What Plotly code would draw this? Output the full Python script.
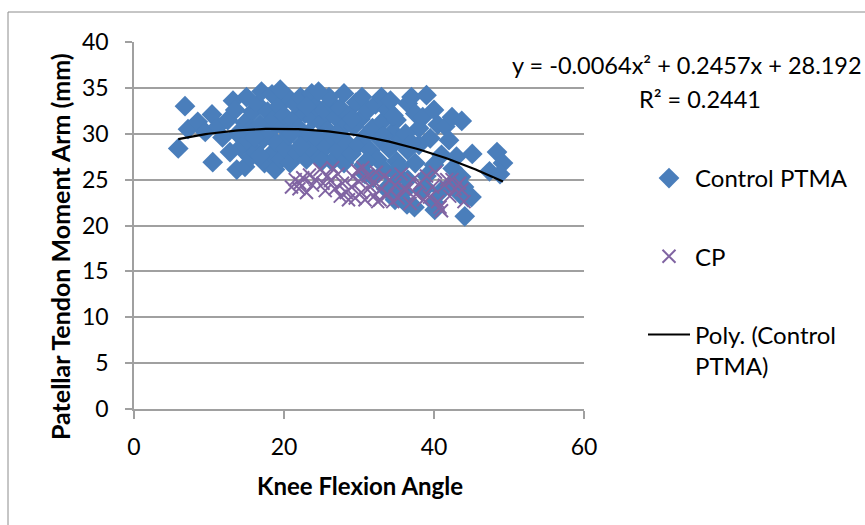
import plotly.graph_objects as go

# ---------------- data ----------------
control_x = [5.9, 6.8, 7.2, 8.5, 9.5, 10.4, 10.5, 11.2, 11.8,
             12.5, 13.2, 13.5, 13.7, 13.8, 14.2, 14.8, 14.8, 15.2, 15.5, 15.8, 15.6,
             16.2, 16.5, 16.8, 17.0, 17.2, 17.4, 17.8, 18.0, 18.3, 18.4, 18.6, 18.8, 19.0, 19.3, 19.6, 19.8, 20.0, 20.2,
             20.5, 20.6, 20.8, 21.2, 21.5, 21.8, 22.0, 22.2, 22.5, 22.8, 23.0, 23.2, 23.7, 23.6, 23.9,
             24.2, 24.5, 24.8, 25.0, 25.3, 25.6, 25.8, 26.2, 26.4, 26.6, 26.9, 27.2, 27.5, 27.8, 28.0, 28.0,
             28.4, 28.7, 29.0, 29.3, 29.6, 29.9, 30.2, 30.4, 30.6, 30.9, 31.2, 31.5, 31.8, 31.9,
             32.2, 32.5, 32.8, 33.0, 33.2, 33.5, 33.8, 34.0, 34.3, 34.5, 34.8, 35.0, 35.3, 35.6, 35.9,
             36.5, 37.0, 37.5, 39.0, 38.0, 38.5, 39.5, 40.0, 40.5, 41.5, 42.4, 43.7, 42.0, 41.0, 40.0,
             43.0, 42.5, 36.4, 37.4, 38.5, 40.0, 41.0, 42.5, 43.5, 44.1, 45.0, 39.0, 37.5, 36.5, 38.0,
             43.6, 44.0, 36.5, 38.8, 40.1, 44.5, 45.1, 47.4, 48.4, 49.2, 48.8,
             21.0, 23.0, 25.0, 27.0, 29.1, 31.0, 33.2, 35.0, 36.2, 37.0, 34.2, 26.0, 22.2, 16.1, 19.5,
             24.6, 30.8, 33.6, 35.4, 34.6, 16.8, 12.8, 15.0]
control_y = [28.4, 33.0, 30.5, 31.3, 30.2, 32.1, 26.9, 30.8, 29.6,
             31.5, 33.6, 32.6, 26.1, 30.0, 28.5, 26.4, 31.2, 29.2, 27.4, 32.4, 30.5,
             28.0, 33.2, 31.0, 34.6, 29.4, 26.8, 32.4, 30.2, 27.8, 34.3, 31.6, 26.1, 29.0, 33.0, 27.2, 30.8, 32.0, 28.4,
             34.0, 29.8, 26.8, 31.5, 33.2, 27.9, 30.6, 34.0, 29.0, 32.2, 27.2, 30.0, 34.4, 28.4, 31.6,
             33.0, 29.4, 27.4, 31.2, 32.6, 28.6, 30.4, 33.4, 27.0, 29.6, 31.8, 28.2, 32.8, 30.6, 34.4, 26.8,
             29.0, 32.0, 27.8, 30.8, 33.4, 28.8, 31.6, 34.0, 26.6, 29.8, 32.6, 28.2, 30.6, 25.2,
             33.2, 27.2, 29.4, 34.0, 31.4, 26.0, 32.6, 28.4, 24.2, 30.2, 22.8, 27.0, 25.4, 29.2, 23.6,
             33.3, 34.0, 32.2, 34.2, 30.6, 31.8, 29.5, 32.6, 31.0, 30.8, 31.8, 31.4, 29.3, 27.7, 26.6,
             27.5, 26.2, 22.3, 22.0, 23.8, 22.5, 23.8, 24.7, 23.4, 21.0, 23.1, 25.4, 26.8, 28.2, 28.8,
             25.3, 24.2, 25.0, 24.2, 21.7, 23.1, 27.8, 25.9, 28.0, 26.8, 25.6,
             30.0, 33.0, 27.0, 30.0, 31.6, 27.0, 29.8, 31.5, 30.0, 29.0, 33.6, 34.0, 28.6, 29.6, 34.8,
             34.6, 25.6, 24.0, 26.4, 32.0, 27.6, 28.0, 34.0]

cp_x = [21.0, 21.5, 22.0, 22.1, 22.5, 23.0, 23.4, 23.8, 24.2, 24.8, 25.2, 25.5, 25.8, 26.2, 26.5,
        26.8, 27.2, 27.5, 27.8, 28.3, 28.6, 29.0, 29.2, 29.5, 29.8, 30.0, 30.3,
        30.5, 30.8, 31.2, 31.5, 31.8, 32.0, 32.3, 32.5, 32.8, 33.0, 33.4, 33.8, 34.1,
        34.5, 34.8, 35.2, 35.6, 36.0, 36.3, 36.8, 37.2, 37.6, 38.1,
        38.6, 39.0, 39.4, 39.8, 40.2, 40.5, 40.8, 41.0, 41.4, 41.7, 42.1, 42.4, 42.8, 43.4, 43.7, 44.0]
cp_y = [24.2, 25.0, 24.0, 24.6, 25.2, 23.6, 25.5, 24.4, 25.0, 26.1, 24.6, 23.8, 25.4, 24.9, 26.3,
        24.0, 25.6, 23.2, 24.6, 23.6, 22.8, 24.2, 25.3, 23.0, 26.0, 24.8, 23.6,
        26.3, 22.8, 25.4, 24.2, 24.6, 23.2, 25.8, 22.6, 22.8, 24.0, 25.4, 23.4, 25.0,
        22.6, 24.4, 23.0, 25.6, 24.0, 23.9, 22.4, 25.0, 23.4, 24.6,
        22.8, 25.4, 23.1, 24.2, 25.8, 22.6, 22.0, 21.6, 24.4, 25.0, 23.2, 25.0, 24.0, 24.6, 23.9, 22.6]

# polynomial trendline coefficients as displayed on the chart
trend_a, trend_b, trend_c = -0.0064, 0.2457, 28.192
equation_text = "y = -0.0064x² + 0.2457x + 28.192"
r2_text = "R² = 0.2441"

x_tickvals = [0, 20, 40, 60]
y_tickvals = [0, 5, 10, 15, 20, 25, 30, 35, 40]

x_title = "Knee Flexion Angle"
y_title = "Patellar Tendon Moment Arm (mm)"
names = ["Control PTMA", "CP", "Poly. (Control<br>PTMA)"]

# ---------------- figure ----------------
FONT = "Lato"
BLUE = "#4A7EBB"
PURPLE = "#8064A2"
GRID = "#A0A0A0"

n_tr = 120
x0, x1 = min(control_x), max(control_x)
trend_x = [x0 + (x1 - x0) * i / (n_tr - 1) for i in range(n_tr)]
trend_y = [trend_a * v * v + trend_b * v + trend_c for v in trend_x]

fig = go.Figure()
fig.add_trace(go.Scatter(
    x=control_x, y=control_y, mode="markers", name=names[0], legendgroup="g1",
    marker=dict(symbol="diamond", size=16, color=BLUE, line=dict(width=0)),
))
fig.add_trace(go.Scatter(
    x=cp_x, y=cp_y, mode="markers", name=names[1], legendgroup="g2",
    marker=dict(symbol="x-thin", size=13, color=PURPLE, line=dict(width=2, color=PURPLE)),
))
fig.add_trace(go.Scatter(
    x=trend_x, y=trend_y, mode="lines", name=names[2], legendgroup="g3",
    line=dict(color="black", width=2.2),
))

L, R, T, B = 134, 281, 42, 116
W, H = 865, 525
pw, ph = W - L - R, H - T - B

def px(xp):
    return (xp - L) / pw

def py(yp):
    return (H - B - yp) / ph

fig.update_layout(
    width=W, height=H,
    margin=dict(l=L, r=R, t=T, b=B, pad=0),
    paper_bgcolor="white", plot_bgcolor="white",
    font=dict(family=FONT, size=24, color="black"),
    showlegend=True,
    legend=dict(
        x=px(643), y=py(156), xanchor="left", yanchor="top",
        font=dict(family=FONT, size=24, color="black"),
        tracegroupgap=44, valign="top", bgcolor="rgba(0,0,0,0)",
        itemwidth=42,
    ),
    xaxis=dict(
        range=[0, 60], tickvals=x_tickvals, showgrid=False, zeroline=False,
        showline=True, linecolor=GRID, linewidth=1.5,
        ticks="outside", ticklen=8, tickwidth=1.5, tickcolor=GRID,
        tickfont=dict(family=FONT, size=23, color="black"),
        ticklabelstandoff=9,
    ),
    yaxis=dict(
        range=[0, 40], tickvals=y_tickvals, showgrid=True, gridcolor=GRID, gridwidth=1.5,
        zeroline=False, showline=True, linecolor=GRID, linewidth=1.5,
        ticks="outside", ticklen=7, tickwidth=1.5, tickcolor=GRID,
        tickfont=dict(family=FONT, size=23, color="black"),
        ticklabelstandoff=12,
    ),
    annotations=[
        dict(text="<b>" + x_title + "</b>", xref="paper", yref="paper",
             x=px(359.5), y=py(485), xanchor="center", yanchor="middle",
             showarrow=False, font=dict(family=FONT, size=24, color="black")),
        dict(text="<b>" + y_title + "</b>", xref="paper", yref="paper",
             x=px(60), y=py(247), xanchor="center", yanchor="middle", textangle=-90,
             showarrow=False, font=dict(family=FONT, size=25, color="black")),
        dict(text=equation_text, xref="paper", yref="paper",
             x=px(864), y=py(65), xanchor="right", yanchor="middle",
             showarrow=False, font=dict(family=FONT, size=23.5, color="black")),
        dict(text=r2_text, xref="paper", yref="paper",
             x=px(700), y=py(99), xanchor="center", yanchor="middle",
             showarrow=False, font=dict(family=FONT, size=23.5, color="black")),
    ],
    shapes=[
        dict(type="rect", xref="paper", yref="paper",
             x0=px(8), x1=px(900), y0=py(560), y1=py(12),
             line=dict(color="#8C8C8C", width=1), fillcolor="rgba(0,0,0,0)", layer="below"),
    ],
)

fig.write_html("out.html")
